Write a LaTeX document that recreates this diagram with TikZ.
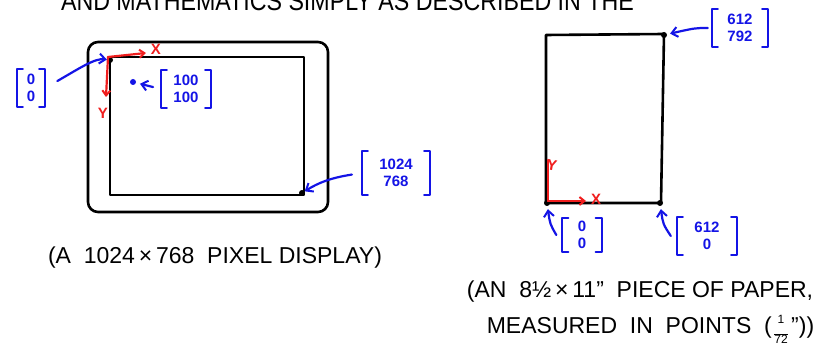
\documentclass[tikz,border=0pt]{standalone}
\usepackage{fontspec}
\setmainfont{Liberation Sans}
\usetikzlibrary{arrows.meta,calc}
\definecolor{penblue}{RGB}{20,20,230}
\definecolor{penred}{RGB}{240,30,30}
\tikzset{
  ink/.style={line width=2.6pt, line join=round, line cap=round},
  bl/.style={line width=2.2pt, draw=penblue, line cap=round, line join=round},
  rd/.style={line width=2.2pt, draw=penred, line cap=round, line join=round},
  dot/.style={circle, fill=black, inner sep=0pt, minimum size=6pt},
  bdot/.style={circle, fill=penblue, inner sep=0pt, minimum size=6pt},
  vec/.style={inner sep=0pt, align=center, text=penblue, font=\fontsize{15}{17}\selectfont\bfseries},
  caption/.style={font=\fontsize{23}{30}\selectfont, align=center, inner sep=0pt},
  fracfont/.style={font=\fontsize{12}{12}\selectfont, inner sep=0pt},
  blarrow/.style={bl, -{Straight Barb[length=6pt, width=10pt, line width=2pt]}},
  rdarrow/.style={rd, -{Straight Barb[length=5pt, width=8pt, line width=2pt]}},
}
\newcommand\vecbrackets[1]{%
  \draw[bl] ([xshift=6pt]#1.north west) -- (#1.north west) -- (#1.south west) -- ([xshift=6pt]#1.south west);
  \draw[bl] ([xshift=-6pt]#1.north east) -- (#1.north east) -- (#1.south east) -- ([xshift=-6pt]#1.south east);}
\begin{document}
\begin{tikzpicture}[x=1pt,y=-1pt]
\useasboundingbox (0,0) rectangle (826,344);
\fill[white] (0,0) rectangle (826,344);
% clipped text at the top (cut off in the reference too)
\begin{scope}
\clip (0,0) rectangle (826,344);
\node[anchor=base west, xscale=0.86, font=\fontsize{27}{28}\selectfont] (toptext) at (58,11) {AND MATHEMATICS SIMPLY AS DESCRIBED IN THE};
\end{scope}

% ---------- left: display ----------
\draw[ink, rounded corners=10pt] (88,42) rectangle (328,212);
\draw[ink] (110,57) rectangle (304,195);
\node[dot] (tl) at (110,60) {};
\node[dot] (br) at (302,193) {};
\node[bdot] (p100) at (133,82) {};
% axes
\coordinate (ox) at (108,57);
\coordinate (xe) at (146,53);
\coordinate (ye) at (106,97);
\draw[rdarrow] (ox) -- (xe);
\draw[rdarrow] (ox) -- (ye);
\node[text=penred, font=\fontsize{15}{15}\selectfont\bfseries] (xl) at (156,49) {X};
\node[text=penred, font=\fontsize{15}{15}\selectfont\bfseries] (yl) at (103,113) {Y};
% vectors
\node[vec, minimum width=28pt, minimum height=37pt] (v00a) at (31,88) {0\\0};
\vecbrackets{v00a}
\node[vec, minimum width=50pt, minimum height=38pt] (v100) at (186,89) {100\\100};
\vecbrackets{v100}
\node[vec, minimum width=68pt, minimum height=43pt] (v1024) at (396,173) {1024\\768};
\vecbrackets{v1024}
\draw[blarrow, shorten <=14pt] (v00a.east) .. controls (80,68) and (95,58) .. (tl);
\draw[blarrow, shorten <=8pt, shorten >=4pt] (v100.west) -- (p100);
\draw[blarrow, shorten <=10pt] (v1024.west) .. controls (330,178) and (318,183) .. (br);
\node[caption] (cap1) at (215,258) {(A\ \ 1024\,×\,768\ \ PIXEL DISPLAY)};

% ---------- right: paper ----------
\draw[ink] (546,35) -- (664,34) -- (661,203) -- (546,203) -- cycle;
\node[dot] (ptr) at (664,35) {};
\node[dot] (pbl) at (547,203) {};
\node[dot] (pbr) at (660,203) {};
\coordinate (po) at (548,201);
\coordinate (pxe) at (586,201);
\coordinate (pye) at (548,160);
\draw[rdarrow] (po) -- (pxe);
\draw[rd] (po) -- (pye);
\node[text=penred, font=\fontsize{15}{15}\selectfont\bfseries] (pxl) at (596,199) {X};
\node[text=penred, font=\fontsize{15}{15}\selectfont\bfseries, rotate=-10] (pyl) at (552,165) {Y};
\node[vec, minimum width=56pt, minimum height=37pt] (v612b) at (740,28) {612\\792};
\vecbrackets{v612b}
\node[vec, minimum width=39pt, minimum height=34pt] (v00b) at (582,235) {0\\0};
\vecbrackets{v00b}
\node[vec, minimum width=60pt, minimum height=37pt] (v612c) at (707,236) {612\\0};
\vecbrackets{v612c}
\draw[blarrow, shorten <=4pt, shorten >=3pt] (v612b.west) .. controls (695,28) .. (ptr);
\draw[blarrow, shorten >=3pt] ([xshift=-6pt]v00b.west) .. controls (550,224) .. (pbl);
\draw[blarrow, shorten >=3pt] ([xshift=-6pt]v612c.west) .. controls (663,224) .. (pbr);
% caption of the paper
\node[caption] (cap2a) at (640,292) {(AN\ \ 8½\,×\,11"\ \ PIECE OF PAPER,};
\node[caption, anchor=base east] (cap2b) at (772,333) {MEASURED\ \ IN\ \ POINTS\ \ (};
\node[fracfont, anchor=base] (fnum) at (781,323) {1};
\node[fracfont, anchor=base] (fden) at (781,343) {72};
\draw[line width=0.9pt] ($(fnum.base)!0.5!(fden.base) + (-7,1)$) -- ++(14,0);
\node[caption, anchor=base west] (cap2c) at (791,333) {"))};
\end{tikzpicture}
\end{document}
